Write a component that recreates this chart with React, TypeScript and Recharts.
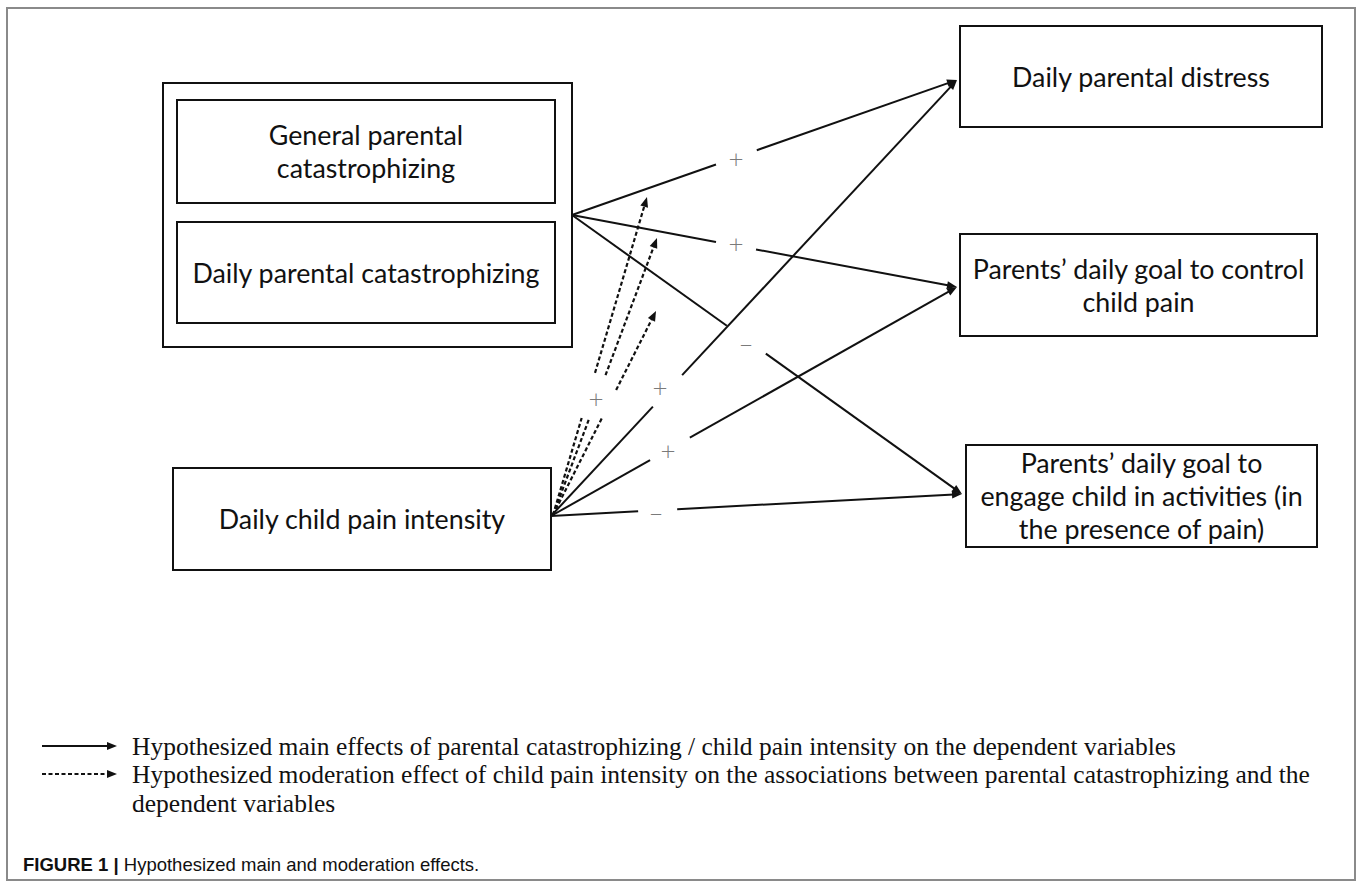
import React from 'react';
import {
  ScatterChart,
  Scatter,
  XAxis,
  YAxis,
  ReferenceArea,
  ReferenceLine,
  ReferenceDot,
} from 'recharts';

const W = 1358;
const H = 881;

// Boxes of the path diagram (page pixel units, y grows downward)
const boxLeft = [163, 177, 177, 173, 960, 960, 966];
const boxRight = [572, 555, 555, 551, 1322, 1317, 1317];
const boxTop = [83, 100, 222, 468, 26, 234, 445];
const boxBottom = [347, 203, 323, 570, 127, 336, 547];
const boxText: string[][] = [
  [],
  ['General parental', 'catastrophizing'],
  ['Daily parental catastrophizing'],
  ['Daily child pain intensity'],
  ['Daily parental distress'],
  ['Parents’ daily goal to control', 'child pain'],
  ['Parents’ daily goal to', 'engage child in activities (in', 'the presence of pain)'],
];

// Paths: start, end, dashed?, gap along the path where the sign sits
const pathStartX = [572, 572, 572, 551, 551, 551, 553, 553, 553];
const pathStartY = [215, 215, 215, 516, 516, 516, 515, 515, 515];
const pathEndX = [957, 957, 962, 957, 957, 962, 647, 657, 656];
const pathEndY = [80, 287, 494, 80, 287, 494, 197, 238, 311];
const pathDashed = [false, false, false, false, false, false, true, true, true];
const gapFrom = [0.374, 0.374, 0.397, 0.251, 0.244, 0.212, 0.305, 0.35, 0.475];
const gapTo = [0.48, 0.478, 0.497, 0.323, 0.342, 0.307, 0.447, 0.505, 0.613];

// Signs of hypothesized effects
const signText = ['+', '+', '–', '+', '+', '–', '+'];
const signX = [736, 736, 746, 660, 668, 656, 596];
const signY = [158, 243, 343, 387, 450, 512, 398];

const legendText = [
  'Hypothesized main effects of parental catastrophizing / child pain intensity on the dependent variables',
  'Hypothesized moderation effect of child pain intensity on the associations between parental catastrophizing and the',
  'dependent variables',
];
const legendY = [746, 774, 803];

const boxFont = 'Lato, "Open Sans", sans-serif';

const signData = signText.map((s, i) => ({ x: signX[i], y: signY[i], label: s }));

const segments: { a: { x: number; y: number }; b: { x: number; y: number }; dashed: boolean; head: boolean }[] = [];
pathStartX.forEach((sx, i) => {
  const sy = pathStartY[i];
  const ex = pathEndX[i];
  const ey = pathEndY[i];
  const at = (t: number) => ({ x: sx + (ex - sx) * t, y: sy + (ey - sy) * t });
  segments.push({ a: { x: sx, y: sy }, b: at(gapFrom[i]), dashed: pathDashed[i], head: false });
  segments.push({ a: at(gapTo[i]), b: { x: ex, y: ey }, dashed: pathDashed[i], head: true });
});

const arrowShape = (dashed: boolean, head: boolean) => (p: any) => {
  const { x1, y1, x2, y2 } = p;
  const ang = Math.atan2(y2 - y1, x2 - x1);
  const c = Math.cos(ang);
  const s = Math.sin(ang);
  const len = 10;
  const half = 4;
  const bx = x2 - len * c;
  const by = y2 - len * s;
  return (
    <g>
      <line
        x1={x1}
        y1={y1}
        x2={head ? bx + 2 * c : x2}
        y2={head ? by + 2 * s : y2}
        stroke="#111"
        strokeWidth={dashed ? 2.2 : 2}
        strokeDasharray={dashed ? '4 2.5' : undefined}
      />
      {head && (
        <polygon
          points={`${x2},${y2} ${bx - half * s},${by + half * c} ${bx + half * s},${by - half * c}`}
          fill="#111"
        />
      )}
    </g>
  );
};

const boxShape = (lines: string[], framed: boolean) => (p: any) => {
  const { x, y, width, height } = p;
  const cx = x + width / 2;
  const cy = y + height / 2;
  return (
    <g>
      <rect x={x} y={y} width={width} height={height} fill="none" stroke={framed ? '#8a8a8a' : '#111'} strokeWidth={2} />
      {lines.map((t, i) => (
        <text
          key={i}
          x={cx}
          y={cy + (i - (lines.length - 1) / 2) * 33}
          textAnchor="middle"
          dominantBaseline="central"
          fontFamily={boxFont}
          fontSize={26.8}
          fill="#111"
        >
          {t}
        </text>
      ))}
    </g>
  );
};

const SignShape = (p: any) => (
  <text
    x={p.cx}
    y={p.cy}
    textAnchor="middle"
    dominantBaseline="central"
    fontFamily={boxFont}
    fontSize={26}
    fontWeight={300}
    fill="#7a7a7a"
  >
    {p.payload.label}
  </text>
);

const textShape = (content: React.ReactNode, family: string, size: number) => (p: any) => (
  <text x={p.cx} y={p.cy} dominantBaseline="central" fontFamily={family} fontSize={size} fill="#111">
    {content}
  </text>
);

export default function App() {
  return (
    <div style={{ position: 'absolute', left: 0, top: 0, width: W, height: H, background: '#fff' }}>
      <ScatterChart width={W} height={H} margin={{ top: 0, right: 0, bottom: 0, left: 0 }}>
        <XAxis type="number" dataKey="x" domain={[0, W]} hide allowDataOverflow />
        <YAxis type="number" dataKey="y" domain={[0, H]} reversed hide allowDataOverflow />

        {/* figure frame */}
        <ReferenceArea x1={7} x2={1355} y1={8} y2={880} ifOverflow="visible" shape={boxShape([], true)} />

        {boxText.map((lines, i) => (
          <ReferenceArea
            key={`box-${i}`}
            x1={boxLeft[i]}
            x2={boxRight[i]}
            y1={boxTop[i]}
            y2={boxBottom[i]}
            ifOverflow="visible"
            shape={boxShape(lines, false)}
          />
        ))}

        {segments.map((sg, i) => (
          <ReferenceLine
            key={`seg-${i}`}
            segment={[sg.a, sg.b]}
            ifOverflow="visible"
            shape={arrowShape(sg.dashed, sg.head)}
          />
        ))}

        <Scatter data={signData} shape={SignShape} isAnimationActive={false} />

        {/* legend */}
        <ReferenceLine
          segment={[{ x: 42, y: legendY[0] }, { x: 117, y: legendY[0] }]}
          ifOverflow="visible"
          shape={arrowShape(false, true)}
        />
        <ReferenceLine
          segment={[{ x: 42, y: legendY[1] }, { x: 117, y: legendY[1] }]}
          ifOverflow="visible"
          shape={arrowShape(true, true)}
        />
        {legendText.map((t, i) => (
          <ReferenceDot
            key={`leg-${i}`}
            x={132}
            y={legendY[i]}
            ifOverflow="visible"
            shape={textShape(t, '"Liberation Serif", "Times New Roman", serif', 25.5)}
          />
        ))}

        {/* caption */}
        <ReferenceDot
          x={23}
          y={864}
          ifOverflow="visible"
          shape={textShape(
            <>
              <tspan fontWeight="bold">FIGURE 1 | </tspan>
              <tspan>Hypothesized main and moderation effects.</tspan>
            </>,
            '"Liberation Sans", Arial, sans-serif',
            18.5,
          )}
        />
      </ScatterChart>
    </div>
  );
}
